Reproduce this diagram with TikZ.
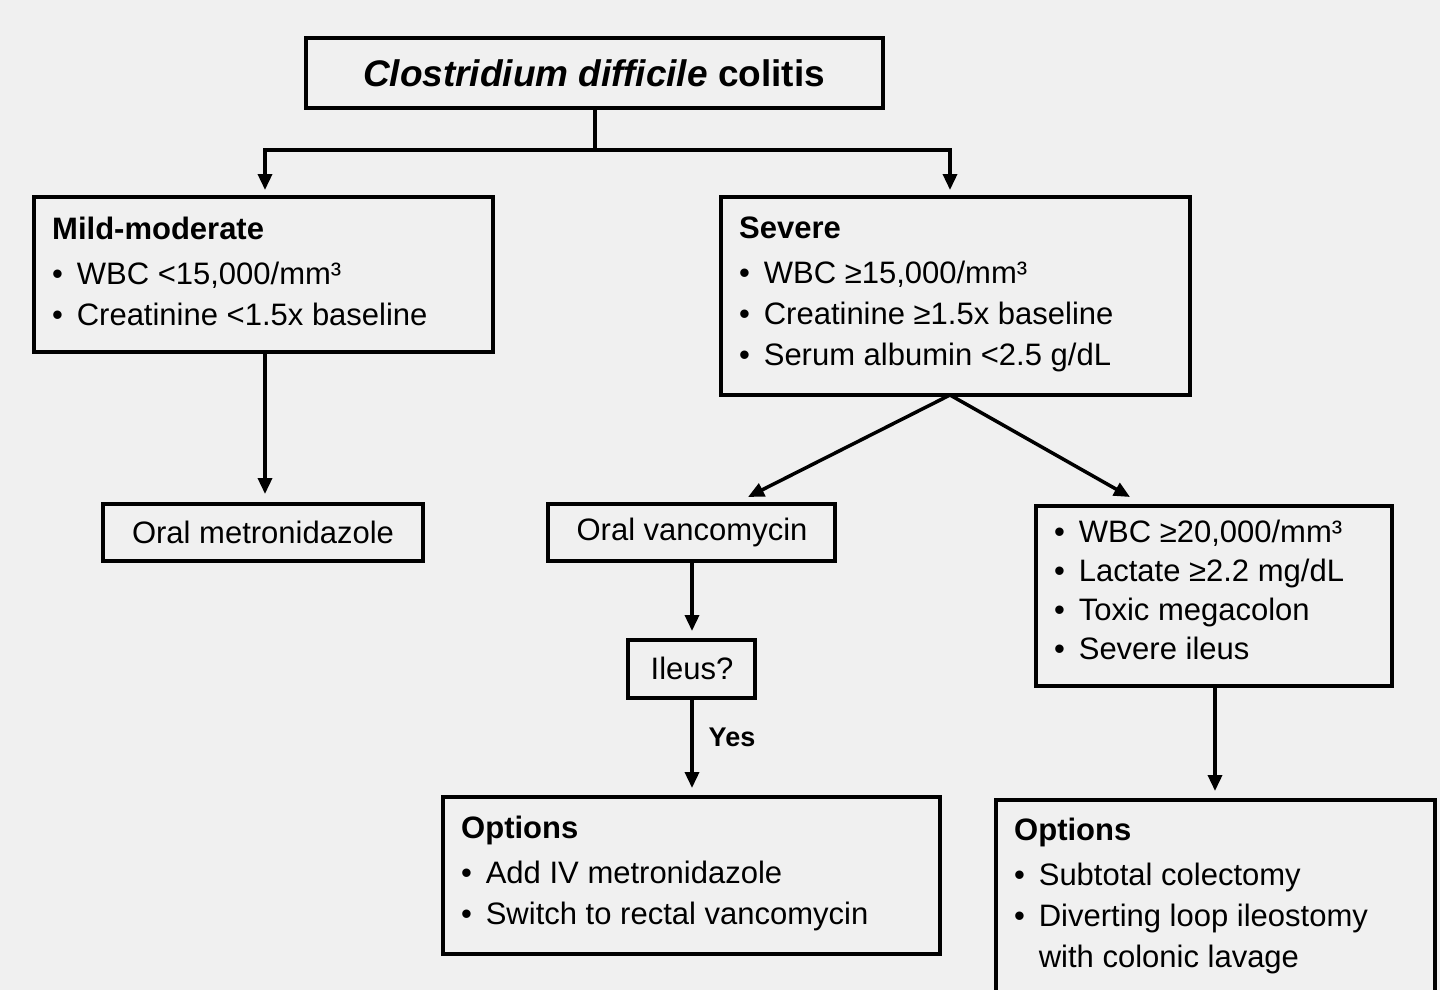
\documentclass[tikz,border=0pt]{standalone}
\usepackage{fontspec}
\setmainfont{Liberation Sans}
\usetikzlibrary{arrows.meta}
\begin{document}
\begin{tikzpicture}[x=1pt,y=-1pt,
  box/.style={draw,line width=3.5pt},
  txt/.style={anchor=north west,align=left,font=\fontsize{31}{41}\selectfont,inner sep=0pt},
  arr/.style={line width=3.5pt,-{Triangle[length=16pt,width=14pt]}},
  ln/.style={line width=3.5pt}]
\fill[gray!12] (0,0) rectangle (1440,990);
\useasboundingbox (0,0) rectangle (1440,990);
\draw[box] (306,38) rectangle (883,108);
\node (title) at (594,73) {\fontsize{37}{40}\selectfont\bfseries\itshape Clostridium difficile\upshape\ colitis};
\draw[box] (34,197) rectangle (493,352);
\node[txt] (mild) at (52,217) {\textbf{Mild-moderate}\\[4pt] • \,WBC <15,000/mm³\\ • \,Creatinine <1.5x baseline};
\draw[box] (721,197) rectangle (1190,395);
\node[txt] (sev) at (739,217) {\textbf{Severe}\\[4pt] • \,WBC ≥15,000/mm³\\ • \,Creatinine ≥1.5x baseline\\ • \,Serum albumin <2.5 g/dL};
\draw[box] (103,504) rectangle (423,561);
\node (metro) at (263,532) {\fontsize{31}{35}\selectfont Oral metronidazole};
\draw[box] (548,504) rectangle (835,561);
\node (vanco) at (692,532) {\fontsize{31}{35}\selectfont Oral vancomycin};
\draw[box] (1036,506) rectangle (1392,686);
\node[txt] (crit) at (1054,520) {• \,WBC ≥20,000/mm³\\[-2pt] • \,Lactate ≥2.2 mg/dL\\[-2pt] • \,Toxic megacolon\\[-2pt] • \,Severe ileus};
\draw[box] (628,640) rectangle (755,698);
\node (ileus) at (692,668) {\fontsize{31}{35}\selectfont Ileus?};
\draw[box] (443,797) rectangle (940,954);
\node[txt] (opt1) at (461,816) {\textbf{Options}\\[4pt] • \,Add IV metronidazole\\ • \,Switch to rectal vancomycin};
\draw[box] (996,995) -- (996,800) -- (1435,800) -- (1435,995);
\node[txt] (opt2) at (1014,818) {\textbf{Options}\\[4pt] • \,Subtotal colectomy\\ • \,Diverting loop ileostomy\\ \phantom{• \,}with colonic lavage};
\coordinate (j) at (595,150);
\draw[ln] (595,108) -- (j);
\draw[arr] (j) -| (265,190);
\draw[arr] (j) -| (950,190);
\draw[arr] (265,352) -- (265,494);
\draw[arr] (950,395) -- (748,497);
\draw[arr] (950,395) -- (1130,497);
\draw[arr] (692,561) -- (692,631);
\draw[arr] (692,698) -- (692,788);
\node at (732,737) {\fontsize{27}{30}\selectfont\bfseries Yes};
\draw[arr] (1215,686) -- (1215,791);
\end{tikzpicture}
\end{document}
